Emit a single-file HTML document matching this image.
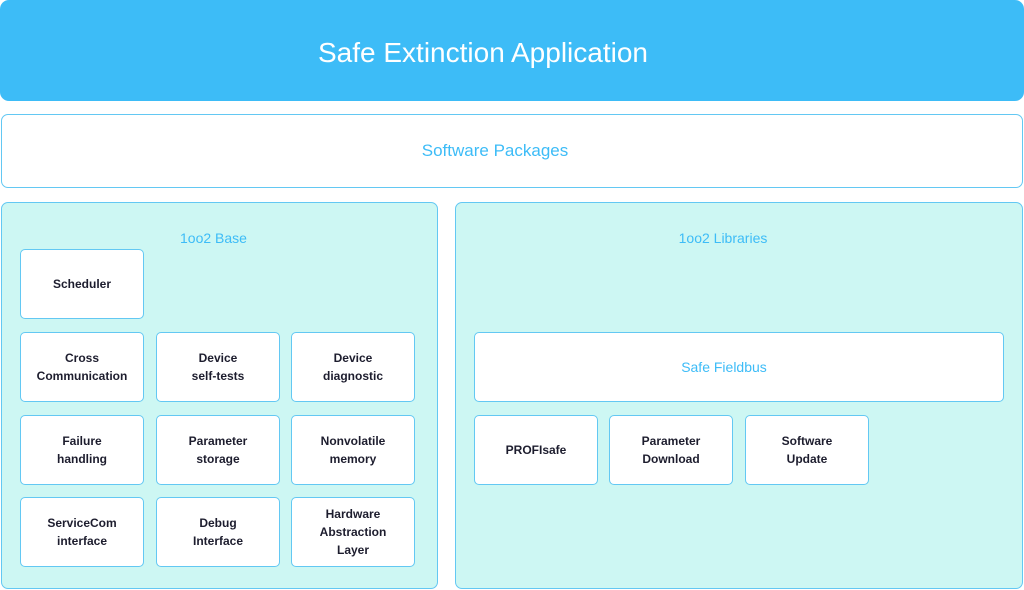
<!DOCTYPE html>
<html><head><style>
body{margin:0;width:1024px;height:590px;background:#fff;position:relative;overflow:hidden;font-family:"Liberation Sans",sans-serif}
.a{position:absolute;box-sizing:border-box;display:flex;align-items:center;justify-content:center;text-align:center}
.top{left:0;top:0;width:1024px;height:101px;background:#3dbcf7;border-radius:9px;color:#fff;font-size:28px;padding-top:4px;padding-right:58px}
.sp{left:1px;top:114px;width:1022px;height:74px;border:1.5px solid #63c8f3;border-radius:7px;color:#3dbcf7;font-size:17px;padding-right:34px}
.pan{background:#cdf7f3;border:1.5px solid #63c8f3;border-radius:7px;position:absolute;box-sizing:border-box}
.lab{position:absolute;color:#3dbcf7;font-size:14px;width:100%;text-align:center;top:27px}
.b{background:#fff;border:1.5px solid #63c8f3;border-radius:5px;font-size:12px;font-weight:bold;color:#1d1d2e;line-height:18px;width:124px;height:70px}
</style></head><body>
<div class="a top">Safe Extinction Application</div>
<div class="a sp">Software Packages</div>
<div class="pan" style="left:1px;top:202px;width:437px;height:387px"><div class="lab" style="left:-6px">1oo2 Base</div></div>
<div class="pan" style="left:455px;top:202px;width:568px;height:387px"><div class="lab" style="left:-16px">1oo2 Libraries</div></div>
<div class="a b" style="left:20px;top:249px">Scheduler</div>
<div class="a b" style="left:20px;top:332px">Cross<br>Communication</div>
<div class="a b" style="left:156px;top:332px">Device<br>self-tests</div>
<div class="a b" style="left:291px;top:332px">Device<br>diagnostic</div>
<div class="a b" style="left:20px;top:415px">Failure<br>handling</div>
<div class="a b" style="left:156px;top:415px">Parameter<br>storage</div>
<div class="a b" style="left:291px;top:415px">Nonvolatile<br>memory</div>
<div class="a b" style="left:20px;top:497px">ServiceCom<br>interface</div>
<div class="a b" style="left:156px;top:497px">Debug<br>Interface</div>
<div class="a b" style="left:291px;top:497px">Hardware<br>Abstraction<br>Layer</div>
<div class="a b" style="left:474px;top:332px;width:530px;color:#3dbcf7;font-weight:normal;font-size:14px;padding-right:30px">Safe Fieldbus</div>
<div class="a b" style="left:474px;top:415px">PROFIsafe</div>
<div class="a b" style="left:609px;top:415px">Parameter<br>Download</div>
<div class="a b" style="left:745px;top:415px">Software<br>Update</div>
</body></html>
